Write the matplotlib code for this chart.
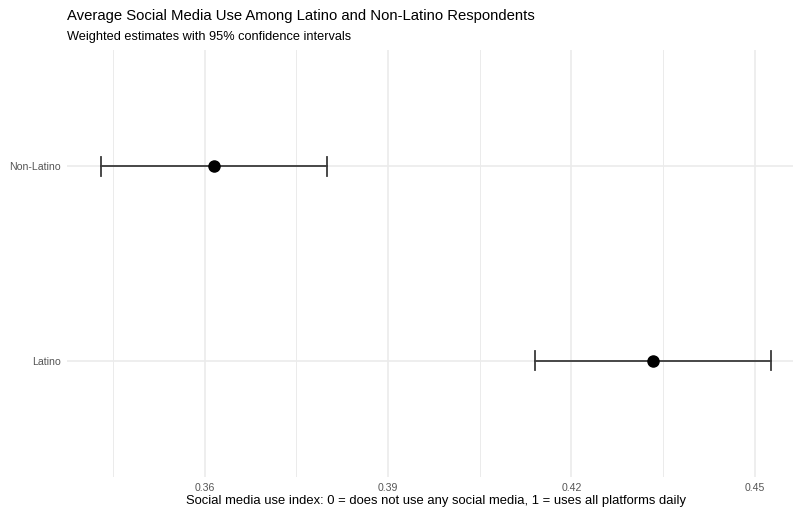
import numpy as np
import matplotlib
matplotlib.use("Agg")
import matplotlib.pyplot as plt

plt.rcParams['font.family'] = ['Liberation Sans', 'DejaVu Sans']

# weighted means and 95% CIs
groups = ["Latino", "Non-Latino"]
means = [0.4334, 0.3615]
ci_low = [0.4141, 0.3430]
ci_high = [0.4527, 0.3800]
xticks = [0.36, 0.39, 0.42, 0.45]
minor_ticks = [0.345, 0.375, 0.405, 0.435]

W, H = 793, 512
fig = plt.figure(figsize=(W / 100, H / 100), dpi=100)

# panel spans px 67..805 horizontally, 50..477 vertically
ax = fig.add_axes([67 / W, (H - 477) / H, (805 - 67) / W, (477 - 50) / H])

ypos = np.arange(1, len(groups) + 1)

# ggplot-like limits: 5% expansion on x, 0.6 on discrete y
lo, hi = min(ci_low), max(ci_high)
pad = (hi - lo) * 0.05
ax.set_xlim(lo - pad, hi + pad)
ax.set_ylim(0.4, len(groups) + 0.6)

grid_col = "#EBEBEB"
for x in minor_ticks:
    ax.axvline(x, color=grid_col, lw=0.7, zorder=0)
for x in xticks:
    ax.axvline(x, color=grid_col, lw=1.2, zorder=0)
for y in ypos:
    ax.axhline(y, color=grid_col, lw=1.2, zorder=0)

for y, m, l, h in zip(ypos, means, ci_low, ci_high):
    ax.plot([l, h], [y, y], color="#3a3a3a", lw=1.3, zorder=2)
    for e in (l, h):
        ax.plot([e, e], [y - 0.05, y + 0.05], color="#3a3a3a", lw=1.3, zorder=2)
ax.scatter(means, ypos, s=64, color="black", zorder=3)

for s in ax.spines.values():
    s.set_visible(False)
ax.set_xticks(xticks)
ax.set_xticklabels([f"{t:.2f}" for t in xticks])
ax.set_yticks(ypos)
ax.set_yticklabels(groups)
ax.tick_params(axis="x", length=0, labelsize=7.6, labelcolor="#555555", pad=4)
ax.tick_params(axis="y", length=0, labelsize=7.6, labelcolor="#555555", pad=4.5)

fig.text(436 / W, 1 - 501 / H, "Social media use index: 0 = does not use any social media, 1 = uses all platforms daily",
         ha="center", va="center", fontsize=9.35, color="black")
fig.text(67 / W, 1 - 16 / H, "Average Social Media Use Among Latino and Non-Latino Respondents",
         ha="left", va="center", fontsize=10.7, color="black")
fig.text(67 / W, 1 - 37 / H, "Weighted estimates with 95% confidence intervals",
         ha="left", va="center", fontsize=9.2, color="black")

fig.savefig("out.png", dpi=100)
